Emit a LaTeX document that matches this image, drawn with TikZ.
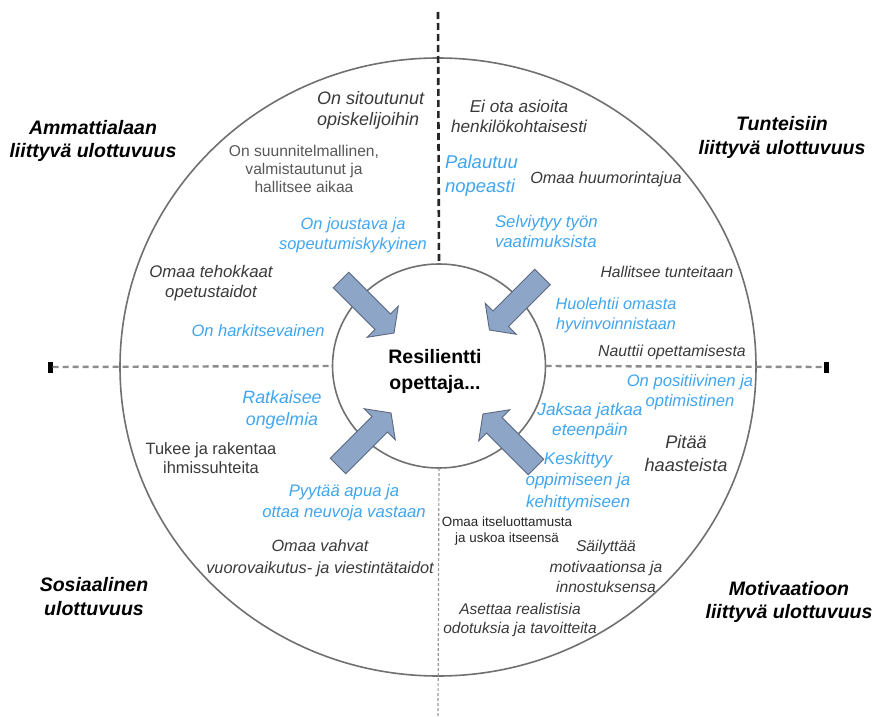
\documentclass[tikz,border=0pt]{standalone}
\usepackage{fontspec}
\setmainfont{Liberation Sans}
\usetikzlibrary{shapes.geometric}
\definecolor{bluetxt}{RGB}{64,166,240}
\definecolor{darktxt}{RGB}{58,58,58}
\definecolor{greytxt}{RGB}{88,88,88}
\definecolor{arrowfill}{RGB}{141,166,200}
\definecolor{arrowdraw}{RGB}{92,104,126}
\definecolor{circcol}{RGB}{112,112,112}
\newcommand{\fsz}[2]{\fontsize{#1}{#2}\selectfont}
\newcommand{\blockarr}[3]{%
  \begin{scope}[shift={(#1,#2)},rotate=#3]
    \filldraw[arrowsty] (0,-11) -- (59,-11) -- (59,-22) -- (75,0) -- (59,22) -- (59,11) -- (0,11) -- cycle;
  \end{scope}}
\tikzset{
  lbl/.style={inner sep=0pt, outer sep=0pt, align=center},
  dim/.style={lbl, font=\bfseries\itshape\fsz{19.5}{23.5}, text=black},
  blu/.style={lbl, text=bluetxt},
  drk/.style={lbl, text=darktxt},
  arrowsty/.style={fill=arrowfill, draw=arrowdraw, line width=0.9pt, line join=miter},
  ring/.style={ellipse, draw=circcol, line width=1.6pt, inner sep=0pt, outer sep=0pt},
  topdash/.style={draw=black!85, line width=2.6pt, dash pattern=on 7pt off 4pt},
  hdash/.style={draw=black!45, line width=2.4pt, dash pattern=on 6pt off 4pt},
  botdash/.style={draw=black!40, line width=1.2pt, dash pattern=on 3pt off 2pt},
  endmark/.style={fill=black, draw=none, minimum width=5pt, minimum height=11pt, inner sep=0pt}
}
\begin{document}
\begin{tikzpicture}[x=1pt,y=-1pt]
\useasboundingbox (0,0) rectangle (879,717);
\fill[white] (0,0) rectangle (879,717);

% circles
\node[ring, minimum width=636pt, minimum height=618pt] (outer) at (438,367) {};
\node[ring, minimum width=213pt, minimum height=204pt] (inner) at (439,366) {};

% axis lines
\coordinate (topend) at (438,12);
\coordinate (botend) at (438,717);
\node[endmark] (leftend) at (50,367) {};
\node[endmark] (rightend) at (826,367) {};
\draw[topdash] (topend) -- (inner.north);
\draw[botdash] (inner.south) -- (botend);
\draw[hdash] (leftend.east) -- (inner.west);
\draw[hdash] (inner.east) -- (rightend.west);

% arrows
\blockarr{341}{280}{-45}
\blockarr{542.5}{277}{-135}
\blockarr{338}{466}{45}
\blockarr{536}{467}{135}

% centre
\node[lbl, font=\bfseries\fsz{19.5}{26}, text=black] (centre) at (435,371) {Resilientti\\opettaja...};

% dimension titles
\node[dim] (amm) at (93,141) {Ammattialaan\\liittyvä ulottuvuus};
\node[dim] (tun) at (782,137.5) {Tunteisiin\\liittyvä ulottuvuus};
\node[dim] (sos) at (94,596.5) {Sosiaalinen\\ulottuvuus};
\node[dim] (mot) at (789,602) {Motivaatioon\\liittyvä ulottuvuus};

% upper left
\node[drk, anchor=west, align=left, font=\itshape\fsz{18}{21}] (sit) at (317,110.5) {On sitoutunut\\opiskelijoihin};
\node[lbl, text=greytxt, font=\fsz{15.6}{18}] (suun) at (304,169) {On suunnitelmallinen,\\valmistautunut ja\\hallitsee aikaa};
\node[blu, font=\itshape\fsz{16.4}{20}] (jous) at (353,235) {On joustava ja\\sopeutumiskykyinen};
\node[drk, font=\itshape\fsz{16.8}{20}] (teho) at (211,283) {Omaa tehokkaat\\opetustaidot};
\node[blu, font=\itshape\fsz{16.5}{20}] (hark) at (258,331) {On harkitsevainen};

% upper right
\node[drk, font=\itshape\fsz{17.2}{20}] (eiota) at (519,116) {Ei ota asioita\\henkilökohtaisesti};
\node[blu, anchor=west, align=left, font=\itshape\fsz{18.5}{24}] (pala) at (445,176) {Palautuu\\nopeasti};
\node[drk, font=\itshape\fsz{16.2}{20}] (huum) at (606,179) {Omaa huumorintajua};
\node[blu, anchor=west, align=left, font=\itshape\fsz{16.8}{20}] (selv) at (495,231) {Selviytyy työn\\vaatimuksista};
\node[drk, font=\itshape\fsz{15.6}{20}] (hall) at (667,272) {Hallitsee tunteitaan};
\node[blu, font=\itshape\fsz{16.2}{20}] (huol) at (616,315) {Huolehtii omasta\\hyvinvoinnistaan};
\node[drk, font=\itshape\fsz{15.8}{20}] (naut) at (672,352) {Nauttii opettamisesta};

% lower right
\node[blu, font=\itshape\fsz{16.6}{20}] (posi) at (690,392) {On positiivinen ja\\optimistinen};
\node[blu, font=\itshape\fsz{17.2}{20}] (jaks) at (590,421) {Jaksaa jatkaa\\eteenpäin};
\node[drk, font=\itshape\fsz{18.2}{23}] (pita) at (686,453.5) {Pitää\\haasteista};
\node[blu, font=\itshape\fsz{17}{21.5}] (kesk) at (578,481.5) {Keskittyy\\oppimiseen ja\\kehittymiseen};
\node[lbl, text=black!85, font=\fsz{13.4}{16}] (itse) at (507,531) {Omaa itseluottamusta\\ja uskoa itseensä};
\node[drk, font=\itshape\fsz{15.6}{20.5}] (sail) at (606,566.5) {Säilyttää\\motivaationsa ja\\innostuksensa};
\node[drk, font=\itshape\fsz{15.5}{19}] (aset) at (520,619.5) {Asettaa realistisia\\odotuksia ja tavoitteita};

% lower left
\node[blu, font=\itshape\fsz{17.8}{22}] (ratk) at (282,410) {Ratkaisee\\ongelmia};
\node[lbl, text=darktxt, font=\fsz{16.4}{19}] (tuke) at (211,458.5) {Tukee ja rakentaa\\ihmissuhteita};
\node[blu, font=\itshape\fsz{16.7}{21}] (pyyt) at (344,502.5) {Pyytää apua ja\\ottaa neuvoja vastaan};
\node[drk, font=\itshape\fsz{16.3}{22}] (vahv) at (320,558) {Omaa vahvat\\vuorovaikutus- ja viestintätaidot};
\end{tikzpicture}
\end{document}
